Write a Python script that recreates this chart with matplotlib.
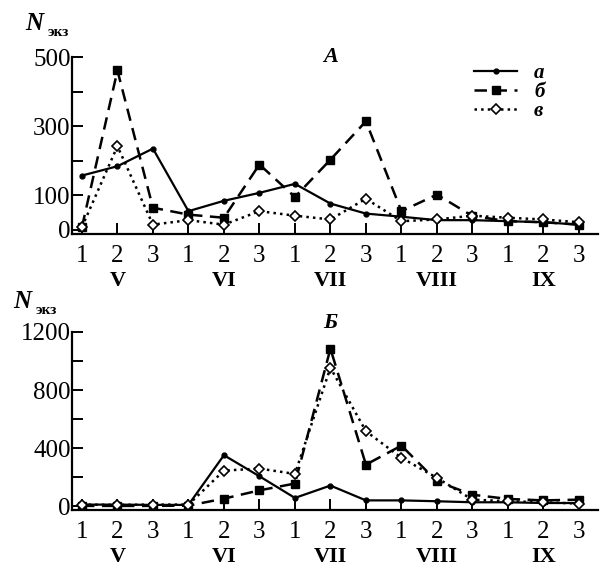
"""
Seasonal abundance by decade (panels A and Б)
"""

import matplotlib
matplotlib.use("Agg")
import matplotlib.pyplot as plt
from matplotlib.ticker import FixedLocator
import matplotlib.transforms as mtransforms

# decades of each month, V .. IX
decades = ["1", "2", "3"] * 5
months = ["V", "VI", "VII", "VIII", "IX"]

# panel A
a_top = [157, 184, 235, 54, 84, 107, 133, 76, 47, 38, 28, 28, 25, 22, 15]
b_top = [8, 461, 64, 44, 35, 189, 95, 203, 314, 54, 102, 40, 25, 22, 15]
v_top = [8, 242, 15, 28, 15, 54, 41, 30, 90, 25, 30, 41, 35, 30, 22]

# panel Б
a_bot = [12, 12, 10, 10, 352, 207, 58, 143, 41, 41, 35, 28, 28, 23, 23]
b_bot = [3, 3, 3, 5, 53, 110, 157, 1085, 287, 418, 172, 80, 51, 41, 46]
v_bot = [12, 10, 12, 12, 246, 260, 223, 954, 517, 334, 196, 46, 35, 28, 19]

series_names = ["а", "б", "в"]

SERIF = "Liberation Serif"
plt.rcParams["font.family"] = [SERIF, "DejaVu Serif"]

fig = plt.figure(figsize=(6.04, 5.70), dpi=100)
ax_a = fig.add_axes([0.1192, 0.5895, 0.871, 0.3105])
ax_b = fig.add_axes([0.1192, 0.1053, 0.871, 0.3123])

x = list(range(len(decades)))


def draw_panel(ax, a, b, v, major, minor, ylim, letter, letter_y, n_pos):
    ax.plot(x, a, "-", color="black", lw=1.6, marker="o", ms=3.5,
            mfc="black", mec="black", label=series_names[0])
    ax.plot(x, b, "--", color="black", lw=1.8, dashes=(5, 3), marker="s",
            ms=6, mfc="black", mec="black", label=series_names[1])
    ax.plot(x, v, ":", color="black", lw=1.8, marker="D", ms=5,
            mfc="white", mec="black", mew=1.2, label=series_names[2])

    ax.set_xlim(-0.28, 14.54)
    ax.set_ylim(*ylim)
    ax.spines["top"].set_visible(False)
    ax.spines["right"].set_visible(False)
    ax.spines["left"].set_linewidth(1.6)
    ax.spines["bottom"].set_linewidth(1.6)

    ax.yaxis.set_major_locator(FixedLocator(major))
    ax.yaxis.set_minor_locator(FixedLocator(minor))
    ax.set_yticklabels([str(m) for m in major])
    ax.set_xticks(x)
    ax.set_xticklabels(decades)
    ax.tick_params(axis="both", which="both", direction="in", length=8,
                   width=1.4, labelsize=18)
    ax.tick_params(axis="y", pad=1)
    ax.tick_params(axis="x", pad=8)

    # month names under the middle decade
    trans = mtransforms.blended_transform_factory(ax.transData, ax.transAxes)
    for i, m in enumerate(months):
        ax.text(3 * i + 1, -0.265, m, transform=trans, ha="center",
                va="center", fontsize=16, fontweight="bold")

    ax.text(7.0, letter_y, letter, transform=trans, ha="center",
            va="center", fontsize=16, fontweight="bold", style="italic")

    # axis label N_экз
    nx, ny = n_pos
    ax.text(nx, ny, "N", transform=ax.transAxes, ha="left",
            va="baseline", fontsize=18, fontweight="bold", style="italic")
    ax.text(nx + 0.042, ny - 0.035, "экз", transform=ax.transAxes,
            ha="left", va="baseline", fontsize=11, fontweight="bold")


draw_panel(ax_a, a_top, b_top, v_top, [0, 100, 300, 500], [200, 400],
           (-12, 500), "A", 1.0, (-0.088, 1.153))
draw_panel(ax_b, a_bot, b_bot, v_bot, [0, 400, 800, 1200],
           [200, 600, 1000], (-25, 1200), "Б", 1.05, (-0.112, 1.135))

ax_a.legend(loc="upper left", bbox_to_anchor=(0.728, 1.07), frameon=False,
            handlelength=2.1, handletextpad=0.8, labelspacing=-0.05,
            borderpad=0.4,
            prop={"family": SERIF, "size": 15, "style": "italic",
                  "weight": "bold"})

fig.savefig("out.png", dpi=100)
